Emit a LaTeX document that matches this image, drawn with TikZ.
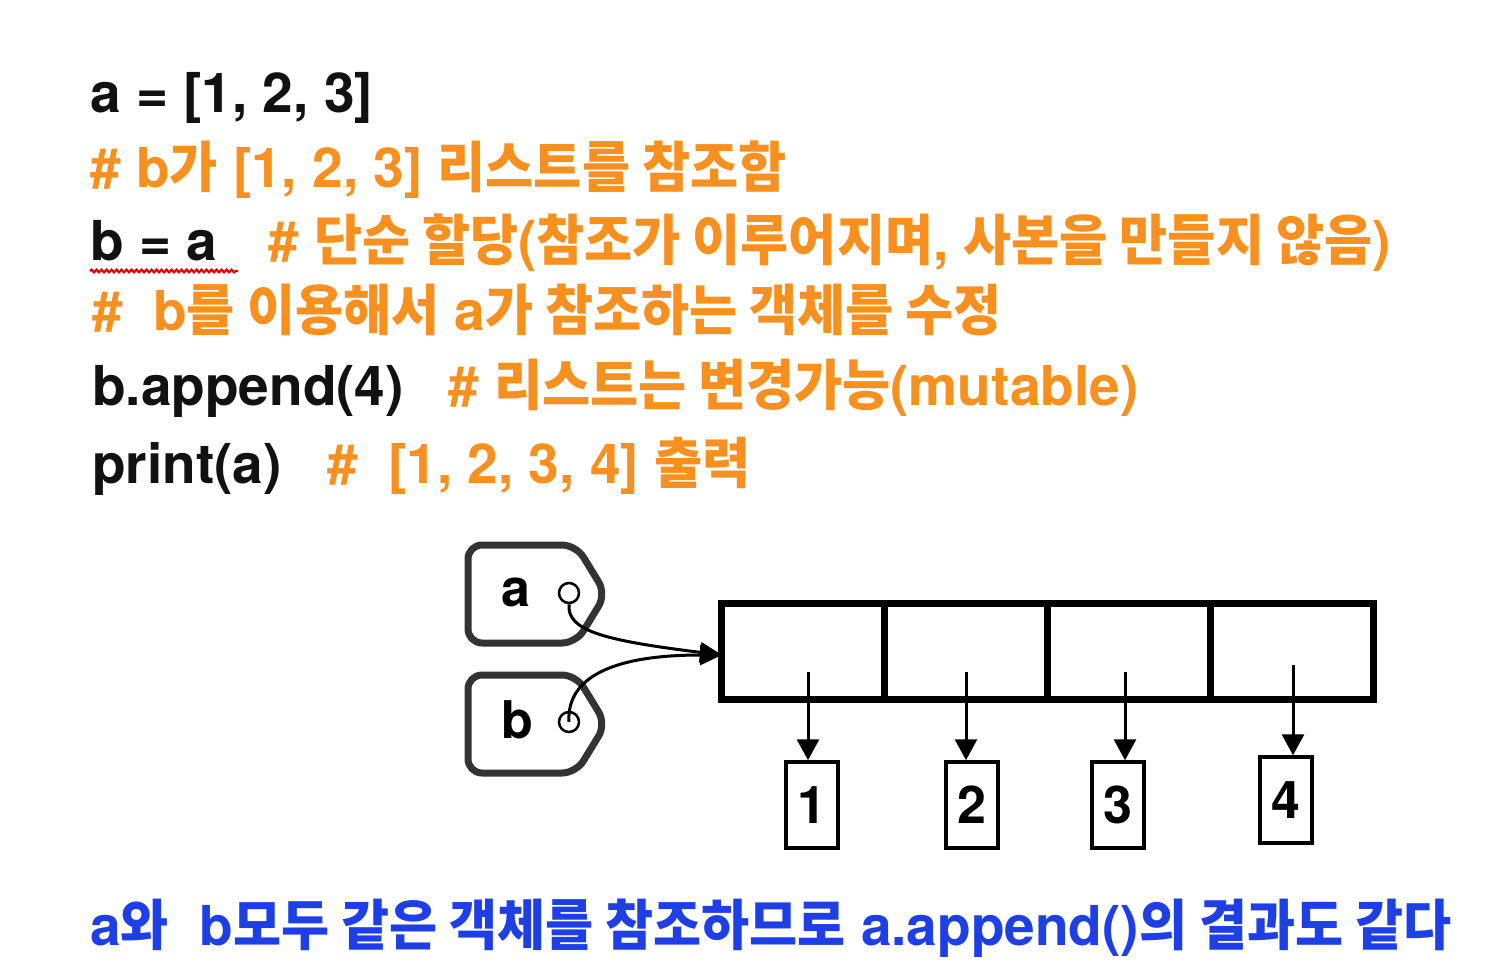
\documentclass[tikz,border=0pt]{standalone}
\usepackage{fontspec}
\usetikzlibrary{arrows.meta,decorations.pathmorphing}
\newfontfamily\heros{TeX Gyre Heros}
\newfontfamily\kr{Noto Sans CJK KR Bold}[FakeStretch=0.95]
\newcommand\K[1]{{\kr #1}}
\definecolor{orng}{HTML}{F7901E}
\definecolor{blu}{HTML}{1E3FE6}
\definecolor{codeblack}{HTML}{111111}
\definecolor{tagdark}{HTML}{333333}
\tikzset{
  code/.style={anchor=base west, inner sep=0pt, font=\heros\bfseries\fontsize{55}{60}\selectfont, text=codeblack},
  cmt/.style={code, text=orng},
  note/.style={code, text=blu},
  tagline/.style={draw=tagdark, line width=7pt, rounded corners=14pt, line join=round},
  hole/.style={circle, draw=black, line width=2.5pt, minimum size=20pt, inner sep=0pt},
  taglabel/.style={inner sep=0pt, font=\heros\bfseries\fontsize{52}{56}\selectfont},
  cell/.style={draw=black, line width=7pt, minimum width=163pt, minimum height=96pt, inner sep=0pt},
  valbox/.style={draw=black, line width=3.5pt, minimum width=52pt, minimum height=86pt, inner sep=0pt, font=\heros\bfseries\fontsize{52}{56}\selectfont},
  ptr/.style={draw=black, line width=3pt, -{Triangle[length=22pt,width=20pt]}},
  elem/.style={draw=black, line width=3pt, -{Triangle[length=21pt,width=22pt]}},
}
\begin{document}
\begin{tikzpicture}[x=1pt,y=-1pt]
\useasboundingbox[fill=white] (0,0) rectangle (1496,970);
% code lines
\node[code] (l1) at (90,112) {a = [1, 2, 3]};
\node[cmt] (l2) at (90,187) {\# b\K{가} [1, 2, 3] \K{리스트를 참조함}};
\node[code] (l3a) at (90,260) {b = a};
\node[cmt] (l3b) at (268,260) {\# \K{단순 할당}(\K{참조가 이루어지며}, \K{사본을 만들지 않음})};
\node[cmt] (l4) at (92,330) {\#\ \ b\K{를 이용해서} a\K{가 참조하는 객체를 수정}};
\node[code] (l5a) at (92,405) {b.append(4)};
\node[cmt] (l5b) at (448,405) {\# \K{리스트는 변경가능}(mutable)};
\node[code] (l6a) at (92,483) {print(a)};
\node[cmt] (l6b) at (327,483) {\#\ \ [1, 2, 3, 4] \K{출력}};
\node[note] (l7) at (90,945) {a\K{와}\ \ b\K{모두 같은 객체를 참조하므로} a.append()\K{의 결과도 같다}};
% red squiggle
\draw[red!90!black, line width=2.2pt, decorate, decoration={snake, amplitude=1.3pt, segment length=5pt}] (90,271) -- (238,271);
% tags
\draw[tagline] (468,545) -- (576,545) -- (606,594) -- (576,643) -- (468,643) -- cycle;
\draw[tagline] (468,675) -- (576,675) -- (606,724) -- (576,773) -- (468,773) -- cycle;
\node[taglabel] (ta) at (516,592) {a};
\node[taglabel] (tb) at (517,720) {b};
\node[hole] (ca) at (569,593) {};
\node[hole] (cb) at (569,722) {};
% list cells
\node[cell] (c1) at (803,651) {};
\node[cell] (c2) at (966,651) {};
\node[cell] (c3) at (1129,651) {};
\node[cell] (c4) at (1292,651) {};
% value boxes
\node[valbox] (v1) at (812,805) {1};
\node[valbox] (v2) at (972,805) {2};
\node[valbox] (v3) at (1118,805) {3};
\node[valbox] (v4) at (1286,800) {4};
% pointers
\coordinate (tipin) at ([yshift=-4pt,xshift=4pt]c1.west);
\draw[ptr] (ca.south) .. controls (567,630) and (600,640) .. (tipin);
\draw[ptr] (cb.center) .. controls (567,690) and (590,655) .. (tipin);
\coordinate (e1) at (808,672);
\coordinate (e2) at (966,672);
\coordinate (e3) at (1125,672);
\coordinate (e4) at (1293,665);
\draw[elem] (e1) -- (e1 |- v1.north);
\draw[elem] (e2) -- (e2 |- v2.north);
\draw[elem] (e3) -- (e3 |- v3.north);
\draw[elem] (e4) -- (e4 |- v4.north);
\end{tikzpicture}
\end{document}
